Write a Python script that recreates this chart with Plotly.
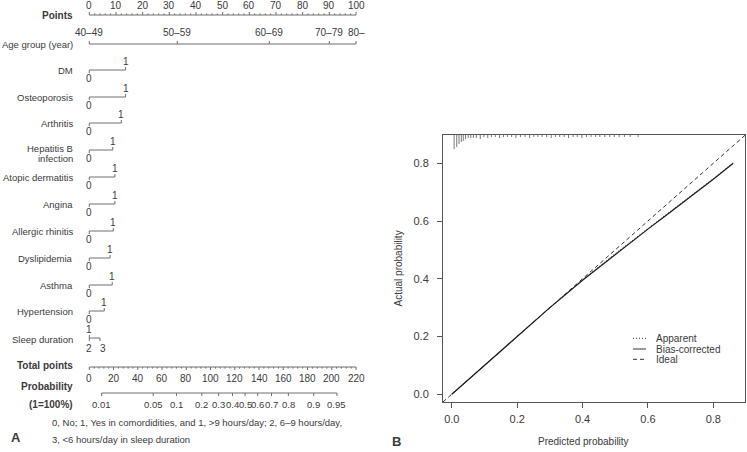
"""
Nomogram (A) and calibration curve (B) — static recreation with Plotly
"""

import plotly.graph_objects as go


# ── Style ─────────────────────────────────────────────────────────────────────

FONT = "Liberation Sans, Arial, sans-serif"
TEXT = "#3a3a3a"
AXIS = "#6e6e6e"
W, H = 747, 452


# ── Nomogram data ─────────────────────────────────────────────────────────────

points_ticks = [0, 10, 20, 30, 40, 50, 60, 70, 80, 90, 100]

age_labels = ["40–49", "50–59", "60–69", "70–79", "80–"]
age_points = [0, 33, 67.5, 90, 100]

comorb_names = ["DM", "Osteoporosis", "Arthritis", "Hepatitis B infection",
                "Atopic dermatitis", "Angina", "Allergic rhinitis",
                "Dyslipidemia", "Asthma", "Hypertension"]
comorb_points = [13.6, 13.6, 12.0, 8.8, 9.6, 9.6, 9.0, 7.8, 8.6, 5.6]

sleep_labels = ["1", "2", "3"]
sleep_points = [0, 0, 4.0]

total_ticks = [0, 20, 40, 60, 80, 100, 120, 140, 160, 180, 200, 220]

prob_labels = ["0.01", "0.05", "0.1", "0.2", "0.3", "0.4", "0.5",
               "0.6", "0.7", "0.8", "0.9", "0.95"]
prob_total = [10.2, 52.7, 71.9, 92.8, 106.7, 118.1, 128.5,
              138.9, 150.3, 164.2, 185.1, 204.3]


# ── Calibration data ──────────────────────────────────────────────────────────

cal_pred = [0.0, 0.1, 0.2, 0.3, 0.4, 0.5, 0.6, 0.65, 0.7, 0.8, 0.861]
bias_corrected = [0.0, 0.10, 0.20, 0.30, 0.395, 0.485, 0.572, 0.615, 0.658, 0.745, 0.80]
apparent = [0.0, 0.10, 0.20, 0.30, 0.396, 0.487, 0.574, 0.617, 0.660, 0.747, 0.802]

rug_pred = [0.007, 0.015, 0.022, 0.029, 0.035, 0.042, 0.050, 0.058, 0.066, 0.075,
            0.087, 0.098, 0.110, 0.121, 0.133, 0.146, 0.158, 0.170, 0.183, 0.196,
            0.210, 0.224, 0.238, 0.251, 0.263, 0.276, 0.290, 0.304, 0.317, 0.330,
            0.344, 0.357, 0.371, 0.384, 0.398, 0.412, 0.426, 0.440, 0.453, 0.468,
            0.483, 0.497, 0.512, 0.528, 0.546, 0.570]
rug_count = [14, 12, 9, 7, 6, 4, 3, 3, 3, 3,
             4, 2, 3, 2, 2, 3, 2, 2, 2, 3,
             2, 2, 3, 2, 2, 2, 2, 3, 2, 2,
             2, 3, 2, 2, 3, 2, 2, 2, 2, 2,
             2, 2, 2, 2, 2, 2]


# ── Layout constants (page pixels) ────────────────────────────────────────────

PX0, PXPP = 89.3, 2.667            # pixel of 0 points, pixels per point
LEFT_R = 373.5
NOMO_X = [-PX0 / PXPP, (LEFT_R - PX0) / PXPP]
LABEL_X = (74 - PX0) / PXPP

Y_POINTS, Y_AGE = 15, 44
Y_ROWS = [70, 97, 123, 150, 177, 204, 231, 258, 285, 311]
Y_SLEEP, Y_TOTAL, Y_PROB = 338, 367, 393

CAL_X = [-0.027, 0.897]
CAL_Y = [-0.027, 0.898]
BOX = dict(x0=443, x1=745, y0=135, y1=402)
CAL_PX_PER_Y = (BOX["y1"] - BOX["y0"]) / (CAL_Y[1] - CAL_Y[0])

FS = 10


def paper(x, y):
    return x / W, 1 - y / H


segs_x, segs_y = [], []


def seg(x0, y0, x1, y1):
    segs_x.extend([x0, x1, None])
    segs_y.extend([y0, y1, None])


annotations = []


def label(x, y, text, anchor="center", bold=False, size=FS, ref="x"):
    if ref == "paper":
        x, y = paper(x, y)
    annotations.append(dict(
        x=x, y=y, xref=ref if ref == "paper" else "x",
        yref=ref if ref == "paper" else "y",
        text=f"<b>{text}</b>" if bold else text, showarrow=False,
        xanchor=anchor, yanchor="middle", borderpad=0,
        font=dict(family=FONT, size=size, color=TEXT),
    ))


# ── Nomogram ──────────────────────────────────────────────────────────────────

# Points
seg(0, Y_POINTS, 100, Y_POINTS)
for p in range(0, 101, 2):
    seg(p, Y_POINTS, p, Y_POINTS - (3 if p % 10 == 0 else 1.6))
for p in points_ticks:
    label(p, Y_POINTS - 9.5, str(p))
label(LABEL_X, Y_POINTS, "Points", "right", bold=True)

# Age group
seg(age_points[0], Y_AGE, age_points[-1], Y_AGE)
for p, t in zip(age_points, age_labels):
    seg(p, Y_AGE, p, Y_AGE - 3)
    label(p, Y_AGE - 12, t)
label(LABEL_X, Y_AGE, "Age group (year)", "right", size=9.5)

# Comorbidities
for name, p, y in zip(comorb_names, comorb_points, Y_ROWS):
    seg(0, y, p, y)
    seg(0, y, 0, y + 3)
    seg(p, y, p, y - 3)
    label(0, y + 8.5, "0")
    label(p, y - 8.5, "1")
    if name.startswith("Hepatitis"):
        label(LABEL_X, y - 1.5, "Hepatitis B", "right", size=9.5)
        label(LABEL_X, y + 8.5, "infection", "right", size=9.5)
    else:
        label(LABEL_X, y, name, "right", size=9.5)

# Sleep duration
seg(sleep_points[0], Y_SLEEP, sleep_points[-1], Y_SLEEP)
seg(sleep_points[0], Y_SLEEP - 3, sleep_points[0], Y_SLEEP + 3)
seg(sleep_points[2], Y_SLEEP, sleep_points[2], Y_SLEEP + 3)
label(sleep_points[0], Y_SLEEP - 9, sleep_labels[0])
label(sleep_points[1], Y_SLEEP + 10, sleep_labels[1])
label(sleep_points[2] + 1.2, Y_SLEEP + 10, sleep_labels[2])
label(LABEL_X, Y_SLEEP + 1, "Sleep duration", "right", size=9.5)

# Total points
tp = 100 / total_ticks[-1]
seg(0, Y_TOTAL, total_ticks[-1] * tp, Y_TOTAL)
for t in range(0, total_ticks[-1] + 1, 4):
    seg(t * tp, Y_TOTAL, t * tp, Y_TOTAL + (3 if t % 20 == 0 else 1.6))
for t in total_ticks:
    label(t * tp, Y_TOTAL + 11, str(t))
label(LABEL_X, Y_TOTAL - 2, "Total points", "right", bold=True)

# Probability
seg(prob_total[0] * tp, Y_PROB, prob_total[-1] * tp, Y_PROB)
for t, lab in zip(prob_total, prob_labels):
    seg(t * tp, Y_PROB, t * tp, Y_PROB + 3)
    label(t * tp, Y_PROB + 11, lab, size=9.5)
label(LABEL_X, Y_PROB - 7, "Probability", "right", bold=True)
label(LABEL_X, Y_PROB + 11, "(1=100%)", "right", bold=True)

fig = go.Figure()
fig.add_trace(go.Scatter(
    x=segs_x, y=segs_y, mode="lines", xaxis="x", yaxis="y",
    line=dict(color=AXIS, width=1), hoverinfo="skip",
))

# Footnote and panel letters
label(10, 437, "A", "left", bold=True, size=13, ref="paper")
label(51, 422.5, "0, No; 1, Yes in comordidities, and 1, &gt;9 hours/day; 2, 6–9 hours/day,",
      "left", size=9.5, ref="paper")
label(51, 439, "3, &lt;6 hours/day in sleep duration", "left", size=9.5, ref="paper")
label(391, 441, "B", "left", bold=True, size=13, ref="paper")


# ── Calibration plot ──────────────────────────────────────────────────────────

rug_x, rug_y = [], []
for xv, c in zip(rug_pred, rug_count):
    rug_x.extend([xv, xv, None])
    rug_y.extend([CAL_Y[1], CAL_Y[1] - c / CAL_PX_PER_Y, None])

fig.add_trace(go.Scatter(
    x=rug_x, y=rug_y, mode="lines", xaxis="x2", yaxis="y2",
    line=dict(color="#555", width=0.8), hoverinfo="skip",
))
fig.add_trace(go.Scatter(
    x=CAL_X, y=CAL_X, mode="lines", xaxis="x2", yaxis="y2",
    line=dict(color="#333", width=1, dash="4px,3px"),
))
fig.add_trace(go.Scatter(
    x=cal_pred, y=apparent, mode="lines", xaxis="x2", yaxis="y2",
    line=dict(color="#333", width=1, dash="1px,2px"),
))
fig.add_trace(go.Scatter(
    x=cal_pred, y=bias_corrected, mode="lines", xaxis="x2", yaxis="y2",
    line=dict(color="#1a1a1a", width=1.2),
))

# Legend (drawn by hand, R style)
legend_items = [("Apparent", "1px,2px", 338.3), ("Bias-corrected", "solid", 349),
                ("Ideal", "4px,3px", 359.3)]
shapes = []
for name, dash, y in legend_items:
    x0, yy = paper(633, y)
    x1, _ = paper(646, y)
    shapes.append(dict(type="line", xref="paper", yref="paper", x0=x0, x1=x1,
                       y0=yy, y1=yy, line=dict(color="#333", width=1, dash=dash)))
    label(655, y, name, "left", ref="paper")

label(583, 441.5, "Predicted probability", ref="paper")
ax_x, ax_y = paper(398, 268.5)
annotations.append(dict(
    x=ax_x, y=ax_y, xref="paper", yref="paper", text="Actual probability",
    textangle=-90, showarrow=False, xanchor="center", yanchor="middle",
    font=dict(family=FONT, size=FS, color=TEXT),
))

cal_axis = dict(
    showline=True, mirror=True, linecolor="#555", linewidth=1,
    ticks="outside", ticklen=5, tickcolor="#555", showgrid=False,
    zeroline=False, tickvals=[0, 0.2, 0.4, 0.6, 0.8],
    ticktext=["0.0", "0.2", "0.4", "0.6", "0.8"],
    tickfont=dict(family=FONT, size=11, color=TEXT),
)

fig.update_layout(
    width=W, height=H,
    margin=dict(l=0, r=0, t=0, b=0),
    paper_bgcolor="white", plot_bgcolor="white",
    showlegend=False,
    xaxis=dict(domain=[0, LEFT_R / W], range=NOMO_X, visible=False, fixedrange=True),
    yaxis=dict(domain=[0, 1], range=[H, 0], visible=False, fixedrange=True),
    xaxis2=dict(cal_axis, domain=[BOX["x0"] / W, BOX["x1"] / W],
                range=CAL_X, anchor="y2", ticklabelstandoff=2),
    yaxis2=dict(cal_axis, domain=[1 - BOX["y1"] / H, 1 - BOX["y0"] / H],
                range=CAL_Y, anchor="x2", ticklabelstandoff=6),
    annotations=annotations,
    shapes=shapes,
)

# the page's default 8px body margin would push the figure off its frame
fig.write_html("out.html", config={"displayModeBar": False},
               post_script="document.body.style.margin = '0';")
